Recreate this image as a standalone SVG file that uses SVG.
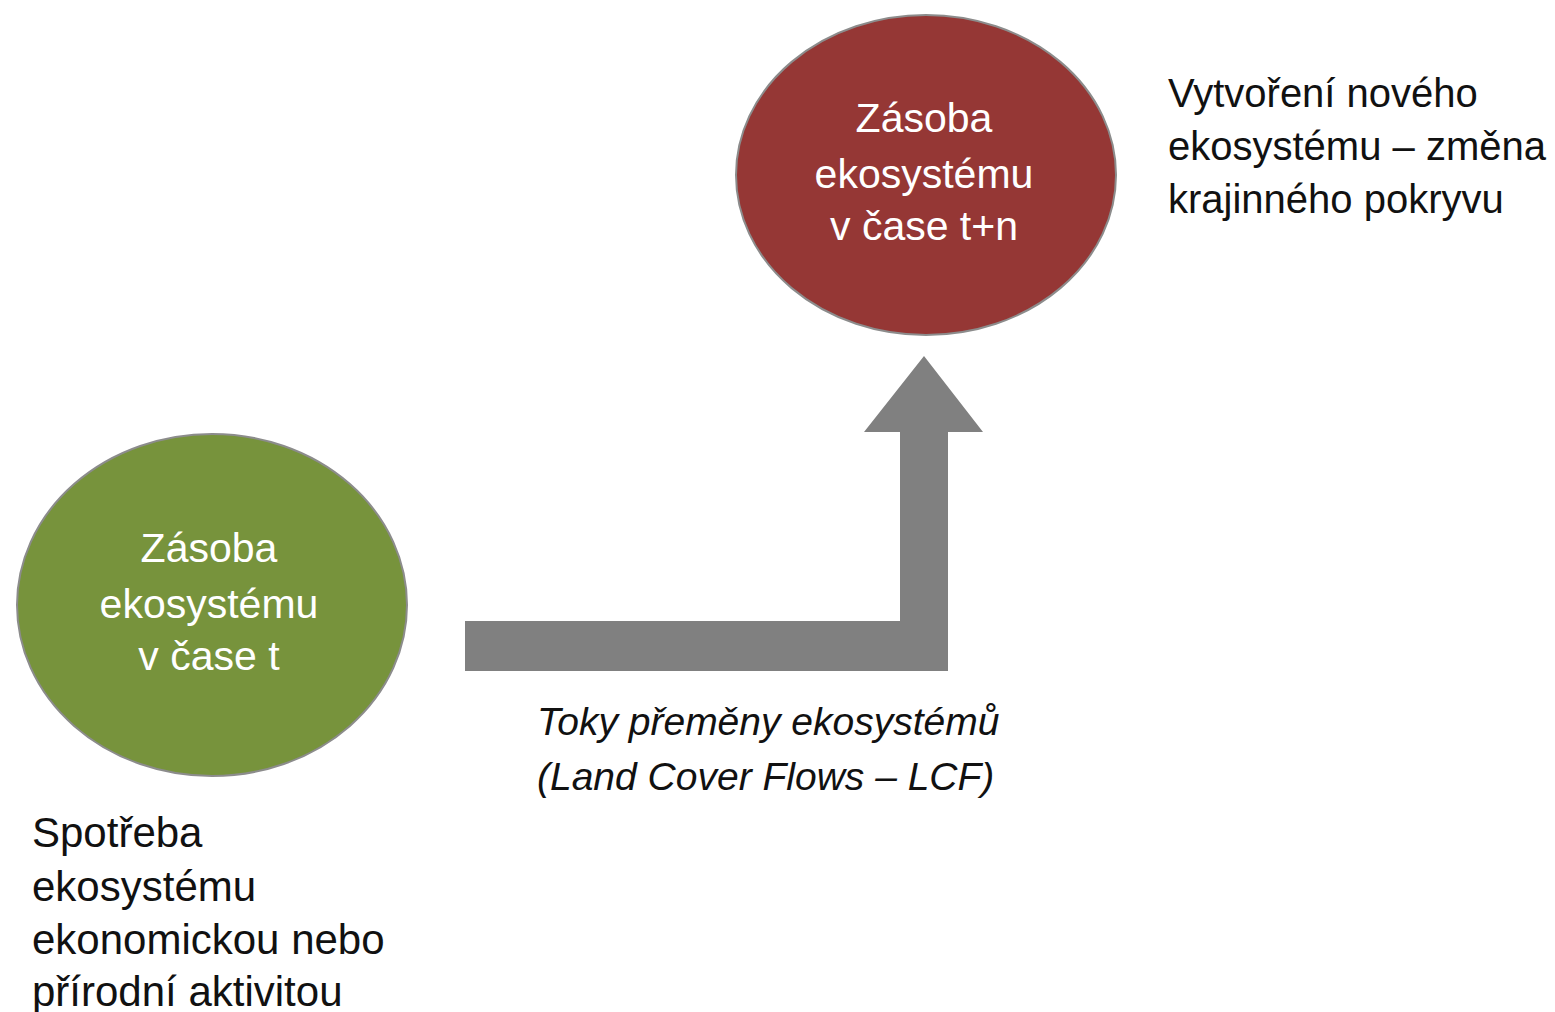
<svg xmlns="http://www.w3.org/2000/svg" width="1555" height="1012" viewBox="0 0 1555 1012">
  <style>
    .node-shape { stroke: #8c8c8c; stroke-width: 2; }
    .node-text { font-family: "Liberation Sans", Arial, sans-serif; font-size: 41px; fill: #ffffff; text-anchor: middle; }
    .label { font-family: "Liberation Sans", Arial, sans-serif; font-size: 40px; fill: #111111; }
    .label-lg { font-size: 42px; }
    .flow { font-family: "Liberation Sans", Arial, sans-serif; font-size: 39px; font-style: italic; fill: #111111; }
  </style>
  <rect width="1555" height="1012" fill="#ffffff"/>
  <g id="connectors">
    <path id="flow-arrow" d="M465,621 L900,621 L900,432 L864,432 L924,356 L983,432 L948,432 L948,671 L465,671 Z" fill="#808080"/>
  </g>
  <g id="node-stock-t">
    <ellipse class="node-shape" cx="212" cy="605" rx="195" ry="171" fill="#77933c"/>
    <text class="node-text" x="209" y="562">Zásoba</text>
    <text class="node-text" x="209" y="618">ekosystému</text>
    <text class="node-text" x="209" y="670">v čase t</text>
  </g>
  <g id="node-stock-tn">
    <ellipse class="node-shape" cx="926" cy="175" rx="190" ry="160" fill="#953735"/>
    <text class="node-text" x="924" y="132">Zásoba</text>
    <text class="node-text" x="924" y="188">ekosystému</text>
    <text class="node-text" x="924" y="240">v čase t+n</text>
  </g>
  <g id="label-creation">
    <text class="label" x="1168" y="107">Vytvoření nového</text>
    <text class="label" x="1168" y="160">ekosystému – změna</text>
    <text class="label" x="1168" y="213">krajinného pokryvu</text>
  </g>
  <g id="label-consumption">
    <text class="label label-lg" x="32" y="847">Spotřeba</text>
    <text class="label label-lg" x="32" y="901">ekosystému</text>
    <text class="label label-lg" x="32" y="954">ekonomickou nebo</text>
    <text class="label label-lg" x="32" y="1006">přírodní aktivitou</text>
  </g>
  <g id="label-flows">
    <text class="flow" x="537" y="735">Toky přeměny ekosystémů</text>
    <text class="flow" x="537" y="790">(Land Cover Flows – LCF)</text>
  </g>
</svg>
